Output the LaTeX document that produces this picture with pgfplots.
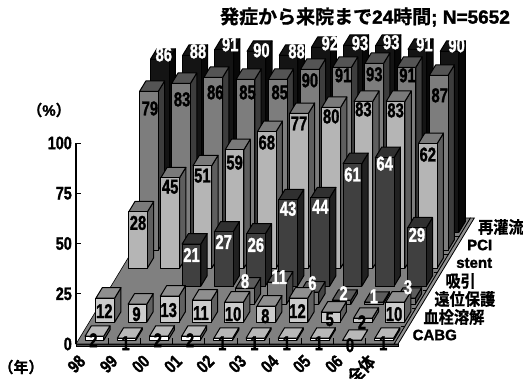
\documentclass[border=0pt]{standalone}
\usepackage{fontspec}
\usepackage{graphicx}
\usepackage{pgfplots}
\pgfplotsset{compat=1.18}
\setmainfont{Liberation Sans}
\newfontfamily\heavy{Liberation Sans Bold}[FakeBold=1.6]
\newfontfamily\cjkheavy{Noto Sans CJK JP Bold}[FakeBold=1.0]

% text helpers: tall, narrow heavy figures as used on the bars and the axes
\newcommand\vallabel[1]{\scalebox{0.74}[1]{\fontsize{20bp}{20bp}\selectfont\heavy #1}}
\newcommand\axlabel[1]{\scalebox{0.8}[1]{\fontsize{18bp}{18bp}\selectfont\heavy #1}}
\newcommand\jplabel[1]{\scalebox{0.95}[1.05]{\fontsize{16bp}{16bp}\selectfont\cjkheavy #1}}
\newcommand\latlabel[1]{\fontsize{15bp}{15bp}\selectfont\heavy #1}

\definecolor{floorgray}{HTML}{808080}

% one bar: #1 row, #2 category, #3 value, #4 #5 label offset in bp
\newcommand\drawbar[5]{%
  \pgfmathsetmacro\xa{#2+0.21}\pgfmathsetmacro\xb{#2+0.79}%
  \pgfmathsetmacro\ya{#1+0.21}\pgfmathsetmacro\yb{#1+0.79}%
  \edef\tmp{\noexpand\addplot3[side#1] coordinates {(\xb,\ya,0)(\xb,\yb,0)(\xb,\yb,#3)(\xb,\ya,#3)} -- cycle;}\tmp
  \edef\tmp{\noexpand\addplot3[top#1] coordinates {(\xa,\ya,#3)(\xb,\ya,#3)(\xb,\yb,#3)(\xa,\yb,#3)} -- cycle;}\tmp
  \edef\tmp{\noexpand\addplot3[front#1] coordinates {(\xa,\ya,0)(\xb,\ya,0)(\xb,\ya,#3)(\xa,\ya,#3)} -- cycle;}\tmp
}
\newcommand\drawlabel[5]{%
  \pgfmathsetmacro\xc{#2+0.5}\pgfmathsetmacro\ya{#1+0.21}%
  \edef\tmp{\noexpand\node[val#1,xshift=#4bp,yshift=#5bp] at (axis cs:\xc,\ya,#3) {\noexpand\vallabel{#3}};}\tmp
}

% rows: {category}{value}{label dx}{label dy}
\newcommand\rowZero[1]{#1{0}{2}{-1}{-4}#1{1}{1}{-1}{-5}#1{2}{2}{-1}{-4}#1{3}{2}{-1}{-4}#1{4}{1}{-1}{-5}#1{5}{1}{-1}{-5}#1{6}{1}{-1}{-5}#1{7}{1}{-1}{-5}#1{8}{0}{-2}{-5}#1{9}{1}{-1}{-5}}
\newcommand\rowOne[1]{#1{0}{12}{-1}{-13}#1{1}{9}{-1}{-10}#1{2}{13}{-1}{-14}#1{3}{11}{-1}{-13}#1{4}{10}{-1}{-12}#1{5}{8}{-1}{-10}#1{6}{12}{-1}{-13}#1{7}{5}{-1}{-7}#1{8}{2}{-1}{-4}#1{9}{10}{-1}{-12}}
\newcommand\rowTwo[1]{#1{4}{8}{0}{7}#1{5}{11}{2}{5}#1{6}{6}{3}{9}#1{7}{2}{2}{7}#1{8}{1}{0}{6}#1{9}{3}{2}{11}}
\newcommand\rowThree[1]{#1{2}{21}{0}{-11}#1{3}{27}{0}{-10}#1{4}{26}{0}{-11}#1{5}{43}{0}{-9}#1{6}{44}{0}{-9}#1{7}{61}{0}{-11}#1{8}{64}{0}{-6}#1{9}{29}{0}{-7}}
\newcommand\rowFour[1]{#1{0}{28}{0}{-11}#1{1}{45}{0}{-9}#1{2}{51}{0}{-10}#1{3}{59}{0}{-13}#1{4}{68}{0}{-11}#1{5}{77}{0}{-10}#1{6}{80}{0}{-9}#1{7}{83}{0}{-8}#1{8}{83}{0}{-9}#1{9}{62}{0}{-11}}
\newcommand\rowFive[1]{#1{0}{79}{1}{-17}#1{1}{83}{1}{-16}#1{2}{86}{2}{-15}#1{3}{85}{2}{-13}#1{4}{85}{2}{-13}#1{5}{90}{0}{-11}#1{6}{91}{1}{-8}#1{7}{93}{0}{-11}#1{8}{91}{1}{-8}#1{9}{87}{1}{-20}}
\newcommand\rowSix[1]{#1{0}{86}{4}{5}#1{1}{88}{6}{4}#1{2}{91}{6}{5}#1{3}{90}{5}{1}#1{4}{88}{8}{4}#1{5}{92}{9}{4}#1{6}{93}{7}{2}#1{7}{93}{6}{3}#1{8}{91}{7}{5}#1{9}{90}{7}{6}}

\pgfplotsset{
  barface/.style={draw=black,line width=1bp,line join=round,mark=none,solid},
  front0/.style={barface,fill=white},
  top0/.style={barface,fill=black!28},
  side0/.style={barface,fill=black!65},
  front1/.style={barface,fill=black!20},
  top1/.style={barface,fill=black!44},
  side1/.style={barface,fill=black!62},
  front2/.style={barface,fill=black!51},
  top2/.style={barface,fill=black!64},
  side2/.style={barface,fill=black!73},
  front3/.style={barface,fill=black!75},
  top3/.style={barface,fill=black!81},
  side3/.style={barface,fill=black!87},
  front4/.style={barface,fill=black!29},
  top4/.style={barface,fill=black!52},
  side4/.style={barface,fill=black!63},
  front5/.style={barface,fill=black!51},
  top5/.style={barface,fill=black!67},
  side5/.style={barface,fill=black!76},
  front6/.style={barface,fill=black!92},
  top6/.style={barface,fill=black!92},
  side6/.style={barface,fill=black!97},
}
\tikzset{
  val0/.style={text=black,inner sep=0pt},
  val1/.style={text=black,inner sep=0pt},
  val2/.style={text=white,inner sep=0pt},
  val3/.style={text=white,inner sep=0pt},
  val4/.style={text=black,inner sep=0pt},
  val5/.style={text=black,inner sep=0pt},
  val6/.style={text=white,inner sep=0pt},
  catlab/.style={rotate=45,anchor=east,inner sep=0pt,xshift=-17bp,yshift=-3bp},
}

\begin{document}
\begin{tikzpicture}[x=1bp,y=1bp]
\useasboundingbox (0,0) rectangle (523,378);
\begin{axis}[
  at={(76bp,34bp)},anchor=origin,
  x={(32.2bp,0bp)},y={(10.9bp,18bp)},z={(0bp,2.01bp)},
  xmin=0,xmax=10,ymin=0,ymax=7,zmin=0,zmax=100,
  clip=false,
  hide axis,
  view={0}{90},
]
% floor with its raised edge
\addplot3[draw=black,line width=1bp,fill=black!70,mark=none] coordinates {(0,0,-1)(10,0,-1)(10,0,0)(0,0,0)} -- cycle;
\addplot3[draw=black,line width=0.6bp,fill=floorgray,mark=none] coordinates {(0,0,0)(9.88,0,0)(9.88,7,0)(0,7,0)} -- cycle;
\addplot3[draw=black,line width=0.8bp,fill=black!42,mark=none] coordinates {(9.88,0,0)(10,0,0)(10,7,0)(9.88,7,0)} -- cycle;
% bars, back row first
\rowSix{\drawbar{6}}
\rowFive{\drawbar{5}}
\rowFour{\drawbar{4}}
\rowThree{\drawbar{3}}
\rowTwo{\drawbar{2}}
\rowOne{\drawbar{1}}
\rowZero{\drawbar{0}}
% ticks along the front and right edges of the floor
\addplot3[black,line width=0.7bp,mark=none] coordinates {(1,0,0)(1,0,3)};
\addplot3[black,line width=0.7bp,mark=none] coordinates {(2,0,0)(2,0,3)};
\addplot3[black,line width=0.7bp,mark=none] coordinates {(3,0,0)(3,0,3)};
\addplot3[black,line width=0.7bp,mark=none] coordinates {(4,0,0)(4,0,3)};
\addplot3[black,line width=0.7bp,mark=none] coordinates {(5,0,0)(5,0,3)};
\addplot3[black,line width=0.7bp,mark=none] coordinates {(6,0,0)(6,0,3)};
\addplot3[black,line width=0.7bp,mark=none] coordinates {(7,0,0)(7,0,3)};
\addplot3[black,line width=0.7bp,mark=none] coordinates {(8,0,0)(8,0,3)};
\addplot3[black,line width=0.7bp,mark=none] coordinates {(9,0,0)(9,0,3)};
\addplot3[black,line width=0.7bp,mark=none] coordinates {(9.75,1,0)(9.88,1,0)};
\addplot3[black,line width=0.7bp,mark=none] coordinates {(9.75,2,0)(9.88,2,0)};
\addplot3[black,line width=0.7bp,mark=none] coordinates {(9.75,3,0)(9.88,3,0)};
\addplot3[black,line width=0.7bp,mark=none] coordinates {(9.75,4,0)(9.88,4,0)};
\addplot3[black,line width=0.7bp,mark=none] coordinates {(9.75,5,0)(9.88,5,0)};
\addplot3[black,line width=0.7bp,mark=none] coordinates {(9.75,6,0)(9.88,6,0)};
% value axis
\addplot3[black,line width=1.1bp,mark=none] coordinates {(0,0,0)(0,0,100)};
\addplot3[black,line width=1bp,mark=none] coordinates {(0,0,100)(0.16,0,100)};
\addplot3[black,line width=1bp,mark=none] coordinates {(0,0,75)(0.16,0,75)};
\addplot3[black,line width=1bp,mark=none] coordinates {(0,0,50)(0.16,0,50)};
\addplot3[black,line width=1bp,mark=none] coordinates {(0,0,25)(0.16,0,25)};
\node[anchor=east,inner sep=0pt,xshift=-4bp] at (axis cs:0,0,100) {\axlabel{100}};
\node[anchor=east,inner sep=0pt,xshift=-4bp] at (axis cs:0,0,75) {\axlabel{75}};
\node[anchor=east,inner sep=0pt,xshift=-4bp] at (axis cs:0,0,50) {\axlabel{50}};
\node[anchor=east,inner sep=0pt,xshift=-4bp] at (axis cs:0,0,25) {\axlabel{25}};
\node[anchor=east,inner sep=0pt,xshift=-4bp] at (axis cs:0,0,0) {\axlabel{0}};
% category names along the front edge
\node[catlab] at (axis cs:0.5,0,0) {\axlabel{98}};
\node[catlab] at (axis cs:1.5,0,0) {\axlabel{99}};
\node[catlab] at (axis cs:2.5,0,0) {\axlabel{00}};
\node[catlab] at (axis cs:3.5,0,0) {\axlabel{01}};
\node[catlab] at (axis cs:4.5,0,0) {\axlabel{02}};
\node[catlab] at (axis cs:5.5,0,0) {\axlabel{03}};
\node[catlab] at (axis cs:6.5,0,0) {\axlabel{04}};
\node[catlab] at (axis cs:7.5,0,0) {\axlabel{05}};
\node[catlab] at (axis cs:8.5,0,0) {\axlabel{06}};
\node[catlab] at (axis cs:9.5,0,0) {\jplabel{全体}};
% row names along the right edge
\node[anchor=west,inner sep=0pt,xshift=9bp] at (axis cs:10,0.5,0) {\latlabel{CABG}};
\node[anchor=west,inner sep=0pt,xshift=9bp] at (axis cs:10,1.5,0) {\jplabel{血栓溶解}};
\node[anchor=west,inner sep=0pt,xshift=9bp] at (axis cs:10,2.5,0) {\jplabel{遠位保護}};
\node[anchor=west,inner sep=0pt,xshift=9bp] at (axis cs:10,3.5,0) {\jplabel{吸引}};
\node[anchor=west,inner sep=0pt,xshift=9bp] at (axis cs:10,4.5,0) {\latlabel{stent}};
\node[anchor=west,inner sep=0pt,xshift=9bp] at (axis cs:10,5.5,0) {\latlabel{PCI}};
\node[anchor=west,inner sep=0pt,xshift=9bp] at (axis cs:10,6.5,0) {\jplabel{再灌流}};
% value labels on the bars
\rowSix{\drawlabel{6}}
\rowFive{\drawlabel{5}}
\rowFour{\drawlabel{4}}
\rowThree{\drawlabel{3}}
\rowTwo{\drawlabel{2}}
\rowOne{\drawlabel{1}}
\rowZero{\drawlabel{0}}
\end{axis}
\node[anchor=center,inner sep=0pt] at (365,361) {\fontsize{19bp}{19bp}\selectfont\cjkheavy 発症から来院まで{\heavy 24}時間{\heavy ; N=5652}};
\node[anchor=center,inner sep=0pt] at (49,268) {\fontsize{15bp}{15bp}\selectfont\cjkheavy （{\heavy\%}）};
\node[anchor=center,inner sep=0pt] at (21,11) {\fontsize{15bp}{15bp}\selectfont\cjkheavy （年）};
\end{tikzpicture}
\end{document}
